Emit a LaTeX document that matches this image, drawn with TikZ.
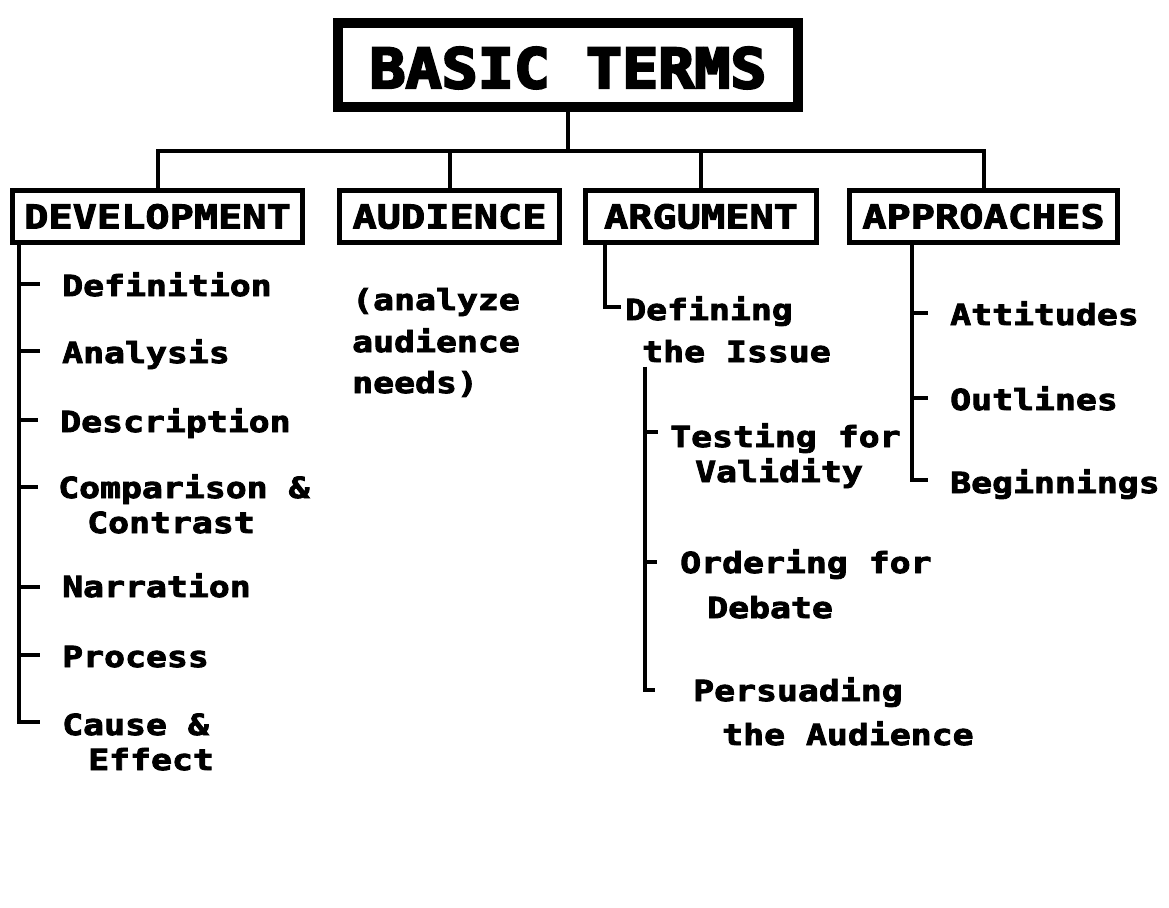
\documentclass[tikz,border=0pt]{standalone}
\usepackage{fontspec}
\newfontfamily\bodyf{DejaVu Sans Mono}[FakeStretch=1.2,FakeBold=3]
\newfontfamily\headf{DejaVu Sans Mono}[FakeStretch=1.22,FakeBold=3]
\newfontfamily\titlef{DejaVu Sans Mono}[FakeStretch=1.09,FakeBold=4.5]
\tikzset{
  ln/.style={line width=4pt},
  item/.style={font={\bodyf\bfseries\fontsize{29pt}{32pt}\selectfont}, anchor=base west, inner sep=0pt},
  headbox/.style={draw, line width=5.5pt, inner sep=0pt, font={\headf\bfseries\fontsize{33pt}{36pt}\selectfont}, text height=24pt, text depth=0pt, minimum height=52pt},
  titlebox/.style={draw, line width=10pt, inner sep=0pt, font={\titlef\bfseries\fontsize{55pt}{60pt}\selectfont}, text height=46pt, text depth=0pt, minimum width=460pt, minimum height=84pt}
}
\begin{document}
\begin{tikzpicture}[x=1pt,y=-1pt]
\fill[white] (0,0) rectangle (1169,907);
\useasboundingbox (0,0) rectangle (1169,907);

% title and branch boxes
\node[titlebox] (title) at (568,65) {BASIC TERMS};
\node[headbox, minimum width=290pt] (dev) at (157.5,216.5) {DEVELOPMENT};
\node[headbox, minimum width=220pt] (aud) at (449.5,216.5) {AUDIENCE};
\node[headbox, minimum width=231pt] (arg) at (701,216.5) {ARGUMENT};
\node[headbox, minimum width=268pt] (app) at (983.5,216.5) {APPROACHES};

% bus
\coordinate (busy) at (0,151);
\draw[ln] (title.south) -- (title.south |- busy);
\draw[ln] (dev.north) -- (dev.north |- busy) -- (app.north |- busy) -- (app.north);
\draw[ln] (aud.north) -- (aud.north |- busy);
\draw[ln] (arg.north) -- (arg.north |- busy);

% DEVELOPMENT items
\node[item] (def) at (62,296) {Definition};
\node[item] (ana) at (62,363) {Analysis};
\node[item] (des) at (60,432) {Description};
\node[item] (com) at (58,498) {Comparison \&};
\node[item] (com2) at (87,533) {Contrast};
\node[item] (nar) at (62,597) {Narration};
\node[item] (pro) at (62,667) {Process};
\node[item] (cau) at (62,735) {Cause \&};
\node[item] (cau2) at (88,770) {Effect};

\coordinate (dvx) at ([xshift=9pt]dev.south west);
\coordinate (defT) at ([xshift=-22pt,yshift=12pt]def.base west);
\coordinate (anaT) at ([xshift=-22pt,yshift=12pt]ana.base west);
\coordinate (desT) at ([xshift=-22pt,yshift=12pt]des.base west);
\coordinate (comT) at ([xshift=-20pt,yshift=11pt]com.base west);
\coordinate (narT) at ([xshift=-22pt,yshift=10pt]nar.base west);
\coordinate (proT) at ([xshift=-22pt,yshift=12pt]pro.base west);
\coordinate (cauT) at ([xshift=-22pt,yshift=13pt]cau.base west);
\draw[ln] (dvx) |- (cauT);
\draw[ln] (dvx |- defT) -- (defT);
\draw[ln] (dvx |- anaT) -- (anaT);
\draw[ln] (dvx |- desT) -- (desT);
\draw[ln] (dvx |- comT) -- (comT);
\draw[ln] (dvx |- narT) -- (narT);
\draw[ln] (dvx |- proT) -- (proT);

% AUDIENCE items
\node[item] (an1) at (352,310) {(analyze};
\node[item] (an2) at (352,352) {audience};
\node[item] (an3) at (352,393) {needs)};

% ARGUMENT items
\node[item] (dfn) at (625,320) {Defining};
\node[item] (iss) at (642,362) {the Issue};
\node[item] (tes) at (670,447) {Testing for};
\node[item] (tes2) at (695,482) {Validity};
\node[item] (ord) at (680,573) {Ordering for};
\node[item] (ord2) at (707,618) {Debate};
\node[item] (per) at (693,701) {Persuading};
\node[item] (per2) at (722,745) {the Audience};

\draw[ln] ([xshift=22.5pt]arg.south west) |- ([xshift=-4pt,yshift=13pt]dfn.base west);
\coordinate (av2) at ([xshift=3pt,yshift=-4pt]iss.south west);
\coordinate (tesT) at ([yshift=15pt]tes.base west);
\coordinate (ordT) at ([yshift=11pt]ord.base west);
\coordinate (perT) at ([yshift=11pt]per.base west);
\draw[ln] (av2) -- (av2 |- perT) -- ++(10,0);
\draw[ln] (av2 |- tesT) -- ++(13,0);
\draw[ln] (av2 |- ordT) -- ++(12,0);

% APPROACHES items
\node[item] (att) at (950,325) {Attitudes};
\node[item] (out) at (950,410) {Outlines};
\node[item] (beg) at (950,493) {Beginnings};
\coordinate (apx) at ([xshift=65.5pt]app.south west);
\coordinate (attT) at ([xshift=-22pt,yshift=12pt]att.base west);
\coordinate (outT) at ([xshift=-22pt,yshift=12pt]out.base west);
\coordinate (begT) at ([xshift=-22pt,yshift=13pt]beg.base west);
\draw[ln] (apx) |- (begT);
\draw[ln] (apx |- attT) -- (attT);
\draw[ln] (apx |- outT) -- (outT);
\end{tikzpicture}
\end{document}
